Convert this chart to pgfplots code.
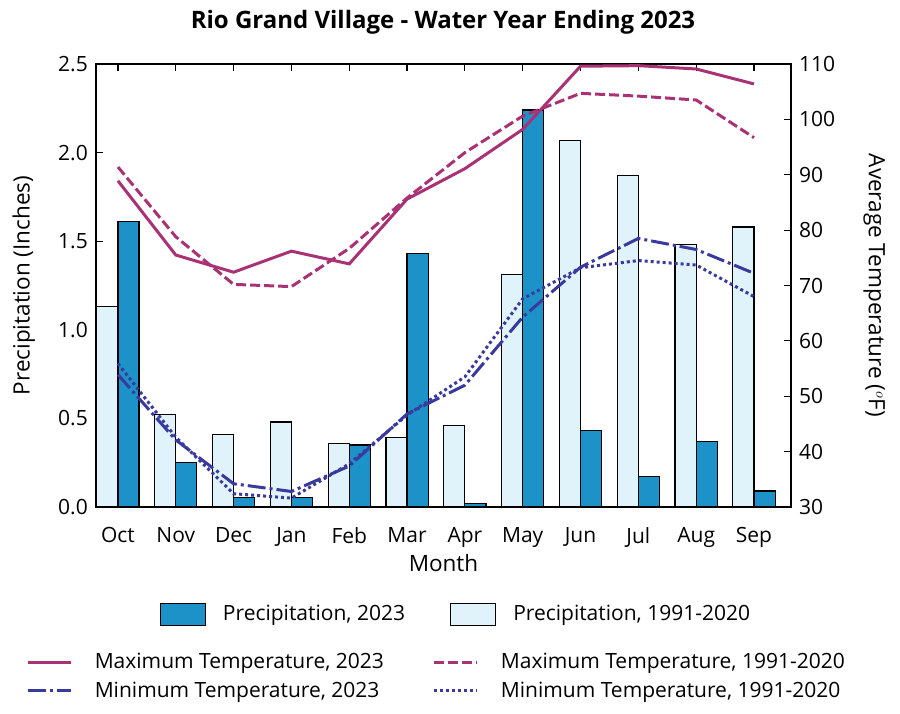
\documentclass[border=0pt]{standalone}
\usepackage{pgfplots}
\pgfplotsset{compat=1.18}
\usepackage{fontspec}
\setmainfont{Open Sans}
\definecolor{dkbar}{RGB}{28,146,200}
\definecolor{ltbar}{RGB}{224,243,251}
\definecolor{mag}{RGB}{168,50,115}
\definecolor{blu}{RGB}{58,58,158}
\newcommand{\fs}{\fontsize{21}{25}\selectfont}
\newcommand{\fl}{\fontsize{22.5}{27}\selectfont}
\begin{document}
\fs
\begin{tikzpicture}[x=1pt,y=1pt]
\useasboundingbox (0,0) rectangle (900,714);
\node[font=\fontsize{24}{28}\selectfont\bfseries] at (443,692) {Rio Grand Village - Water Year Ending 2023};
\begin{axis}[
  at={(96pt,207pt)}, anchor=south west,
  scale only axis, width=695pt, height=443pt,
  xmin=-0.38, xmax=11.64, ymin=0, ymax=2.5,
  axis line style={line width=1.4pt},
  xtick={0,...,11},
  xticklabels={Oct,Nov,Dec,Jan,Feb,Mar,Apr,May,Jun,Jul,Aug,Sep},
  ytick={0,0.5,...,2.5},
  ytick pos=left, xtick pos=both,
  tick align=inside,
  major tick length=7pt,
  tick style={line width=1.2pt, black},
  yticklabel style={/pgf/number format/fixed, /pgf/number format/fixed zerofill, /pgf/number format/precision=1, /pgf/number format/assume math mode=true, xshift=-1pt},
  ticklabel style={font=\fs},
  xticklabel style={yshift=-13pt},
  xlabel={Month}, ylabel={Precipitation (Inches)},
  label style={font=\fl},
  xlabel style={yshift=7pt},
  ylabel style={yshift=9pt},
  legend columns=2,
  legend cell align=left,
  legend style={draw=none, fill=none, at={(0.5165,-0.243)}, anchor=center,
    inner sep=0pt, font=\fs, nodes={inner sep=0pt},
    /tikz/every odd column/.append style={column sep=17pt},
    /tikz/every even column/.append style={column sep=45pt}},
  legend image code/.code={\draw[#1] (0pt,-11pt) rectangle (45pt,11pt);},
]
\addplot[ybar, bar width=0.365, bar shift=0.1825, fill=dkbar, draw=black, line width=1.2pt]
 coordinates {(0,1.61) (1,0.25) (2,0.055) (3,0.055) (4,0.35) (5,1.43) (6,0.02) (7,2.24) (8,0.43) (9,0.17) (10,0.37) (11,0.09)};
\addlegendentry{Precipitation, 2023}
\addplot[ybar, bar width=0.365, bar shift=-0.1825, fill=ltbar, draw=black, line width=1.2pt]
 coordinates {(0,1.13) (1,0.52) (2,0.41) (3,0.48) (4,0.36) (5,0.39) (6,0.46) (7,1.31) (8,2.07) (9,1.87) (10,1.48) (11,1.58)};
\addlegendentry{Precipitation, 1991-2020}
\end{axis}
\begin{axis}[
  at={(96pt,207pt)}, anchor=south west,
  scale only axis, width=695pt, height=443pt,
  xmin=-0.38, xmax=11.64, ymin=30, ymax=110,
  axis y line*=right, axis x line=none,
  axis line style={line width=1.4pt},
  ytick={30,40,...,110},
  tick align=inside, major tick length=7pt,
  tick style={line width=1.2pt, black},
  yticklabel style={font=\fs, /pgf/number format/assume math mode=true, xshift=1pt},
  ylabel={Average Temperature ($^o$F)},
  ylabel style={font=\fl, rotate=180, yshift=14pt},
  legend columns=2,
  legend cell align=left,
  legend style={draw=none, fill=none, at={(0.489,-0.383)}, anchor=center,
    inner sep=0pt, font=\fs, nodes={inner sep=0pt}, row sep=10pt,
    /tikz/every odd column/.append style={column sep=22pt},
    /tikz/every even column/.append style={column sep=49pt}},
  legend image code/.code={\draw[#1] (0pt,0pt) -- (43pt,0pt);},
]
\addplot[mag, line width=3pt] coordinates {(0,88.9) (1,75.5) (2,72.4) (3,76.2) (4,73.9) (5,85.6) (6,91.1) (7,98.2) (8,109.6) (9,109.7) (10,109.1) (11,106.4)};
\addlegendentry{Maximum Temperature, 2023}
\addplot[mag, line width=3pt, dash pattern=on 10pt off 4pt] coordinates {(0,91.4) (1,78.8) (2,70.2) (3,69.8) (4,76.7) (5,85.8) (6,94.0) (7,100.6) (8,104.7) (9,104.2) (10,103.5) (11,96.7)};
\addlegendentry{Maximum Temperature, 1991-2020}
\addplot[blu, line width=3pt, dash pattern=on 18pt off 4pt on 3pt off 4pt] coordinates {(0,53.9) (1,42.1) (2,34.2) (3,32.8) (4,37.4) (5,46.8) (6,52.0) (7,64.3) (8,73.3) (9,78.5) (10,76.5) (11,72.2)};
\addlegendentry{Minimum Temperature, 2023}
\addplot[blu, line width=3pt, dash pattern=on 3pt off 3pt] coordinates {(0,55.9) (1,42.6) (2,32.4) (3,31.6) (4,37.8) (5,46.6) (6,53.5) (7,67.6) (8,73.2) (9,74.5) (10,73.7) (11,68.0)};
\addlegendentry{Minimum Temperature, 1991-2020}
\end{axis}
\end{tikzpicture}
\end{document}
